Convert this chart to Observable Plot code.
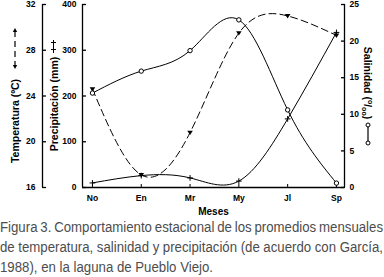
<!DOCTYPE html>
<html><head><meta charset="utf-8">
<script src="https://cdn.jsdelivr.net/npm/d3@7"></script>
<script src="https://cdn.jsdelivr.net/npm/@observablehq/plot@0.6"></script>
<style>
html,body{margin:0;padding:0;background:#fff;}
body{width:384px;height:277px;overflow:hidden;}
#chart svg{display:block;}
#cap{font-family:"Liberation Sans",Arial,sans-serif;font-size:14px;color:#4d4d4d;line-height:20px;width:384px;}
#cap div{white-space:nowrap;height:20px;}
#cap span{display:inline-block;white-space:nowrap;transform-origin:0 50%;}
</style></head><body>
<div id="chart"></div>
<div id="cap">
<div><span>Figura 3. Comportamiento estacional de los promedios mensuales</span></div>
<div><span>de temperatura, salinidad y precipitación (de acuerdo con García,</span></div>
<div><span>1988), en la laguna de Pueblo Viejo.</span></div>
</div>
<script>
const months = ["No","En","Mr","My","Jl","Sp"];
const temperatura = [24.6, 17.1, 20.8, 29.5, 31.0, 29.3];   // ºC
const salinidad = [12.9, 15.9, 18.7, 22.9, 10.6, 0.6];       // o/oo
const precipitacion = [10, 26, 21, 14, 150, 339];            // mm
const tempTicks = [16, 20, 24, 28, 32];
const precTicks = [0, 100, 200, 300, 400];
const salTicks = [0, 5, 10, 15, 20, 25];
const xDomain = [-0.204, 5.165];

// map secondary units onto the precipitation scale (0–400)
const tToP = t => (t - 16) * 25;
const sToP = s => s * 16;

const rows = months.map((m, i) => ({
  i, m,
  t: tToP(temperatura[i]),
  s: sToP(salinidad[i]),
  p: precipitacion[i]
}));

const triDown = {
  draw(ctx, size) {
    const r = Math.sqrt(size / Math.PI);
    ctx.moveTo(-r, -r * 0.7);
    ctx.lineTo(r, -r * 0.7);
    ctx.lineTo(0, r * 0.9);
    ctx.closePath();
  }
};

const chart = Plot.plot({
  width: 384, height: 217,
  marginLeft: 82, marginRight: 40, marginTop: 4, marginBottom: 30,
  x: {type: "linear", domain: xDomain, label: null},
  y: {domain: [0, 400], label: null},
  style: {fontFamily: "'Liberation Sans', Arial, sans-serif", fontSize: "8.5px", fontWeight: "bold", color: "#000", background: "#fff", overflow: "visible"},
  marks: [
    // axis lines
    Plot.ruleX([xDomain[0]], {y1: 0, y2: 400, stroke: "#000", strokeWidth: 1.3}),
    Plot.ruleX([xDomain[0]], {y1: 0, y2: 400, dx: -40, stroke: "#000", strokeWidth: 1.3}),
    Plot.ruleX([xDomain[1]], {y1: 0, y2: 400, stroke: "#000", strokeWidth: 1.3}),
    Plot.ruleY([0], {stroke: "#000", strokeWidth: 1.3}),
    // axes
    Plot.axisY({anchor: "left", ticks: precTicks, tickSize: -4, tickPadding: 10, label: null, strokeWidth: 1.3}),
    Plot.axisY({anchor: "left", dx: -40, ticks: tempTicks.map(tToP), tickFormat: d => d / 25 + 16, tickSize: -4, tickPadding: 11, label: null, strokeWidth: 1.3}),
    Plot.axisY({anchor: "right", ticks: salTicks.map(sToP), tickFormat: d => d / 16, tickSize: -4, tickPadding: 9, label: null, strokeWidth: 1.3}),
    Plot.axisX({ticks: months.map((_, i) => i), tickFormat: i => months[i], tickSize: -3, tickPadding: 10, label: null}),
    // lines
    Plot.line(rows, {x: "i", y: "s", curve: "natural", stroke: "#000", strokeWidth: 1}),
    Plot.line(rows, {x: "i", y: "p", curve: "natural", stroke: "#000", strokeWidth: 1}),
    Plot.line(rows, {x: "i", y: "t", curve: "natural", stroke: "#000", strokeWidth: 1, strokeDasharray: "7,4"}),
    // markers
    Plot.dot(rows, {x: "i", y: "p", symbol: "plus", r: 2, stroke: "#000", strokeWidth: 1}),
    Plot.dot(rows, {x: "i", y: "t", symbol: triDown, r: 2.8, fill: "#000", stroke: "none"}),
    Plot.dot(rows, {x: "i", y: "s", r: 2.2, fill: "#fff", stroke: "#000", strokeWidth: 1}),
    Plot.text(["Meses"], {frameAnchor: "bottom", dy: 27, fontSize: 10})
  ]
});
document.getElementById("chart").appendChild(chart);

const svg = d3.select(chart);

// axis titles
const titles = svg.append("g").attr("font-family", "'Liberation Sans', Arial, sans-serif")
  .attr("font-weight", "bold").attr("font-size", 10.5).attr("fill", "#000")
  .attr("text-anchor", "middle").attr("dominant-baseline", "central");
titles.append("text").attr("transform", "translate(15,121) rotate(-90)").text("Temperatura (ºC)");
titles.append("text").attr("transform", "translate(54,104) rotate(-90)").text("Precipitación (mm)");
titles.append("text").attr("transform", "translate(368,83) rotate(90)")
  .html('Salinidad (<tspan dy="-3" font-size="7">o</tspan><tspan dy="3">/</tspan><tspan dy="3" font-size="7">oo</tspan><tspan dy="-3">)</tspan>');

// legend glyphs
const g = svg.append("g").attr("stroke", "#000").attr("fill", "#000");
// temperature: dashed with triangles
g.append("line").attr("x1", 15).attr("x2", 15).attr("y1", 31).attr("y2", 66).attr("stroke-dasharray", "6,4").attr("stroke-width", 1.2);
g.append("path").attr("d", "M12.8,32 L17.2,32 L15,28 Z").attr("stroke", "none");
g.append("path").attr("d", "M12.8,65 L17.2,65 L15,69 Z").attr("stroke", "none");
// precipitation: line with crosses
g.append("line").attr("x1", 53.5).attr("x2", 53.5).attr("y1", 40).attr("y2", 53).attr("stroke-width", 1);
g.append("line").attr("x1", 51).attr("x2", 56).attr("y1", 42.5).attr("y2", 42.5).attr("stroke-width", 1);
g.append("line").attr("x1", 51).attr("x2", 56).attr("y1", 49.5).attr("y2", 49.5).attr("stroke-width", 1);
// salinity: line with circles
g.append("line").attr("x1", 368).attr("x2", 368).attr("y1", 125).attr("y2", 143).attr("stroke-width", 1.2);
g.append("circle").attr("cx", 368).attr("cy", 125).attr("r", 2).attr("fill", "#fff");
g.append("circle").attr("cx", 368).attr("cy", 143).attr("r", 2).attr("fill", "#fff");

// caption: condensed look, first two lines justified to the full width
const spans = Array.from(document.querySelectorAll("#cap span"));
const w = spans.map(s => s.getBoundingClientRect().width);
const k = 213 / w[2];
[0, 1].forEach(j => {
  const n = (spans[j].textContent.match(/ /g) || []).length;
  const extra = (383 / k - w[j]) / n;
  spans[j].style.wordSpacing = extra + "px";
});
spans.forEach(s => s.style.transform = `scaleX(${k})`);
</script>
</body></html>
